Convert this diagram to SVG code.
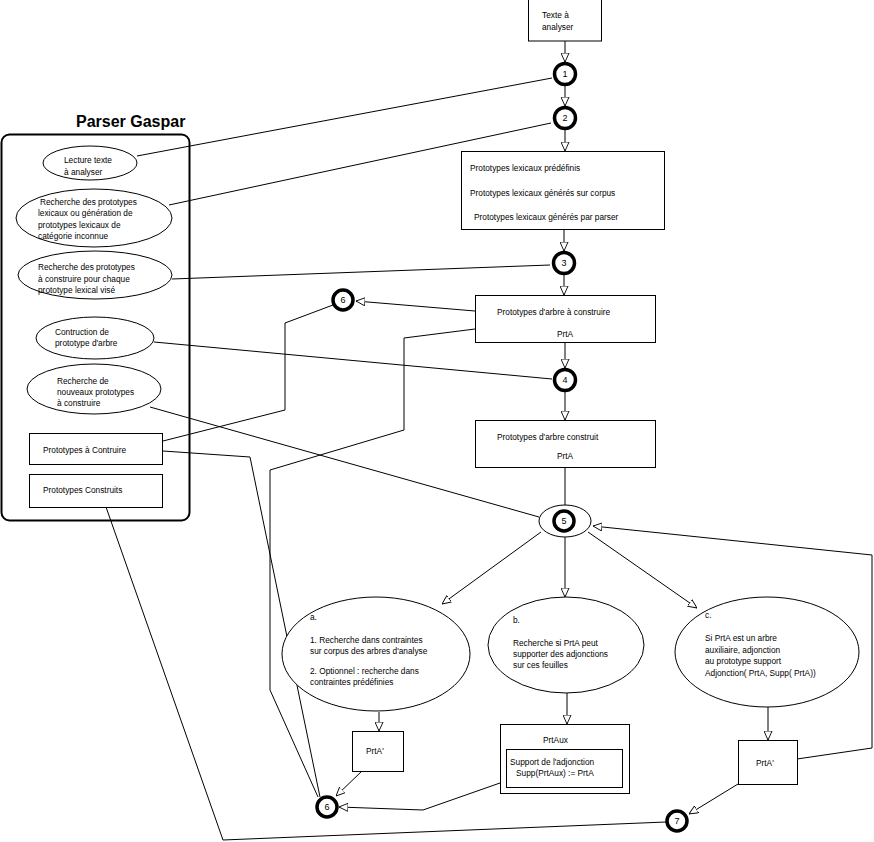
<svg xmlns="http://www.w3.org/2000/svg" width="874" height="842" viewBox="0 0 874 842">
<defs>
<marker id="ah" viewBox="0 0 10 10" refX="10" refY="5" markerWidth="9" markerHeight="9" markerUnits="userSpaceOnUse" orient="auto">
<path d="M0,0.5 L10,5 L0,9.5 z" fill="#fff" stroke="#000" stroke-width="1"/>
</marker>
</defs>
<style>
text{font-family:"Liberation Sans",Arial,sans-serif;font-size:8.3px;fill:#000}
.t{font-size:16px;font-weight:bold}
.n{text-anchor:middle;font-size:9px}
.s{fill:#fff;stroke:#000;stroke-width:1}
.c{fill:#fff;stroke:#000;stroke-width:3.5}
.l{fill:none;stroke:#000;stroke-width:1}
.a{fill:none;stroke:#000;stroke-width:1;marker-end:url(#ah)}
</style>
<rect width="874" height="842" fill="#fff"/>
<g id="panel">
<rect x="1.5" y="134.5" width="188" height="386" rx="8" fill="#fff" stroke="#000" stroke-width="2"/>
<text class="t" x="76" y="127">Parser Gaspar</text>
</g>
<g id="connectors">
<path class="a" d="M565,41 V62"/>
<path class="a" d="M565,86 V106"/>
<path class="a" d="M565,130 V151"/>
<path class="a" d="M564,229 V251"/>
<path class="a" d="M564,275 V295"/>
<path class="a" d="M565,342 V368"/>
<path class="a" d="M565,392 V420"/>
<path class="l" d="M565,467 V505"/>
<path class="a" d="M541,532 L442,604"/>
<path class="a" d="M565,537 V597"/>
<path class="a" d="M588,532 L697,608"/>
<path class="a" d="M379,712 V731"/>
<path class="a" d="M567,693 V724"/>
<path class="a" d="M768,707 V740"/>
<path class="a" d="M362,771 L336,796"/>
<path class="a" d="M500,783 L423,810 L339,807"/>
<path class="a" d="M738,784 L689,814"/>
<path class="a" d="M797,759 L872,748 L872,555 L593,526"/>
<path class="a" d="M475,311 L356,301"/>
<path class="l" d="M475,329 L404,338 L404,430 L270,470 L270,690 L318,797"/>
<path class="l" d="M137,156 L552,78"/>
<path class="l" d="M169,205 L551,123"/>
<path class="l" d="M172,279 L550,265"/>
<path class="l" d="M154,342 L552,379"/>
<path class="l" d="M150,407 L539,517"/>
<path class="l" d="M163,441 L285,410 L285,323 L333,305"/>
<path class="l" d="M163,451 L250,457 L320,797"/>
<path class="l" d="M106,507 L223,840 L666,822"/>
</g>
<g id="e-lecture">
<ellipse class="s" cx="90" cy="163" rx="47" ry="17"/>
<text x="64" y="163">Lecture texte</text>
<text x="64" y="175">à analyser</text>
</g>
<g id="e-recherche-lex">
<ellipse class="s" cx="94" cy="218" rx="78" ry="29"/>
<text x="40" y="205">Recherche des prototypes</text>
<text x="38" y="216">lexicaux ou génération de</text>
<text x="38" y="228">prototypes lexicaux de</text>
<text x="38" y="239">catégorie inconnue</text>
</g>
<g id="e-recherche-proto">
<ellipse class="s" cx="95" cy="275" rx="77" ry="24"/>
<text x="38" y="270">Recherche des prototypes</text>
<text x="38" y="282">à construire pour chaque</text>
<text x="38" y="293">prototype lexical visé</text>
</g>
<g id="e-construction">
<ellipse class="s" cx="95" cy="338" rx="59" ry="21"/>
<text x="55" y="335">Contruction de</text>
<text x="55" y="346">prototype d'arbre</text>
</g>
<g id="e-nouveaux">
<ellipse class="s" cx="94" cy="389" rx="67" ry="25"/>
<text x="57" y="384">Recherche de</text>
<text x="57" y="395">nouveaux prototypes</text>
<text x="57" y="406">à construire</text>
</g>
<g id="r-acontruire">
<rect class="s" x="29.5" y="433.5" width="133" height="31"/>
<text x="43" y="453">Prototypes à Contruire</text>
</g>
<g id="r-construits">
<rect class="s" x="29.5" y="474.5" width="133" height="33"/>
<text x="43" y="493">Prototypes Construits</text>
</g>
<g id="texte">
<rect class="s" x="528.5" y="-1" width="73" height="42"/>
<text x="542" y="18">Texte à</text>
<text x="542" y="30">analyser</text>
</g>
<g id="c1"><circle class="c" cx="565" cy="74" r="10.5"/><text class="n" x="565" y="77">1</text></g>
<g id="c2"><circle class="c" cx="565" cy="118" r="10.5"/><text class="n" x="565" y="121">2</text></g>
<g id="lexicaux">
<rect class="s" x="461.5" y="151.5" width="203" height="78"/>
<text x="470" y="171">Prototypes lexicaux prédéfinis</text>
<text x="470" y="196">Prototypes lexicaux générés sur corpus</text>
<text x="474" y="220">Prototypes lexicaux générés par parser</text>
</g>
<g id="c3"><circle class="c" cx="564" cy="263" r="10.5"/><text class="n" x="564" y="266">3</text></g>
<g id="arbre-a-construire">
<rect class="s" x="475.5" y="295.5" width="180" height="47"/>
<text x="497" y="315">Prototypes d'arbre à construire</text>
<text x="557" y="337">PrtA</text>
</g>
<g id="c4"><circle class="c" cx="565" cy="380" r="10.5"/><text class="n" x="565" y="383">4</text></g>
<g id="arbre-construit">
<rect class="s" x="475.5" y="420.5" width="180" height="47"/>
<text x="497" y="440">Prototypes d'arbre construit</text>
<text x="557" y="459">PrtA</text>
</g>
<g id="c5">
<ellipse class="s" cx="565" cy="521" rx="26" ry="16"/>
<circle class="c" cx="564" cy="521" r="10"/>
<text class="n" x="564" y="524">5</text>
</g>
<g id="c6-top"><circle class="c" cx="343" cy="300" r="10"/><text class="n" x="343" y="303">6</text></g>
<g id="e-a">
<ellipse class="s" cx="376" cy="654" rx="94" ry="57"/>
<text x="310" y="620">a.</text>
<text x="310" y="643">1. Recherche dans contraintes</text>
<text x="310" y="654">sur corpus des arbres d'analyse</text>
<text x="310" y="674">2. Optionnel : recherche dans</text>
<text x="310" y="685">contraintes prédéfinies</text>
</g>
<g id="e-b">
<ellipse class="s" cx="566" cy="645" rx="78" ry="48"/>
<text x="513" y="623">b.</text>
<text x="513" y="646">Recherche si PrtA peut</text>
<text x="513" y="657">supporter des adjonctions</text>
<text x="513" y="668">sur ces feuilles</text>
</g>
<g id="e-c">
<ellipse class="s" cx="767" cy="652" rx="92" ry="55"/>
<text x="705" y="618">c.</text>
<text x="705" y="641">Si PrtA est un arbre</text>
<text x="705" y="653">auxiliaire, adjonction</text>
<text x="705" y="664">au prototype support</text>
<text x="705" y="676">Adjonction( PrtA, Supp( PrtA))</text>
</g>
<g id="prta-a">
<rect class="s" x="352.5" y="731.5" width="51" height="40"/>
<text x="366" y="754">PrtA'</text>
</g>
<g id="prtaux">
<rect class="s" x="500.5" y="724.5" width="129" height="69"/>
<text x="543" y="743">PrtAux</text>
<rect class="s" x="506.5" y="749.5" width="116" height="38"/>
<text x="510" y="765">Support de l'adjonction</text>
<text x="516" y="776">Supp(PrtAux) := PrtA</text>
</g>
<g id="prta-c">
<rect class="s" x="738.5" y="740.5" width="59" height="44"/>
<text x="756" y="766">PrtA'</text>
</g>
<g id="c6-bottom"><circle class="c" cx="327" cy="807" r="10"/><text class="n" x="327" y="810">6</text></g>
<g id="c7"><circle class="c" cx="677" cy="821" r="10"/><text class="n" x="677" y="824">7</text></g>
</svg>
